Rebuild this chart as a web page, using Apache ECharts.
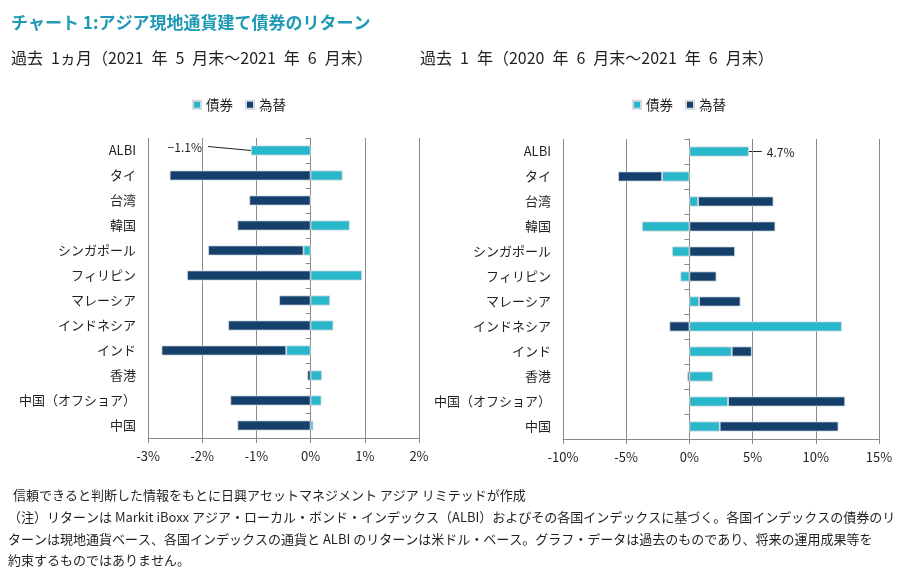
<!DOCTYPE html>
<html>
<head>
<meta charset="utf-8">
<script src="https://cdn.jsdelivr.net/npm/echarts@6/dist/echarts.min.js"></script>
<style>html,body{margin:0;padding:0;background:#fff}#c{width:904px;height:578px}</style>
</head>
<body>
<div id="c"></div>
<script>
var categories = ['ALBI','タイ','台湾','韓国','シンガポール','フィリピン','マレーシア','インドネシア','インド','香港','中国（オフショア）','中国'];
var monthBond = [-1.1, 0.59, 0, 0.72, -0.13, 0.95, 0.36, 0.42, -0.45, 0.21, 0.2, 0.05];
var monthFx   = [null, -2.6, -1.13, -1.35, -1.76, -2.28, -0.58, -1.52, -2.3, -0.06, -1.48, -1.35];
var yearBond  = [4.7, -2.16, 0.69, -3.75, -1.37, -0.71, 0.77, 12.06, 3.35, 1.87, 3.06, 2.4];
var yearFx    = [null, -3.48, 5.96, 6.8, 3.61, 2.14, 3.27, -1.58, 1.58, -0.16, 9.26, 9.39];
var seriesNames = ['債券', '為替'];
var monthTicks = {min: -3, max: 2, interval: 1};
var yearTicks = {min: -10, max: 15, interval: 5};
var titleText = 'チャート 1:アジア現地通貨建て債券のリターン';
var subLeft = '過去\u20021ヵ月（2021\u2002年\u20025\u2002月末～2021\u2002年\u20026\u2002月末）';
var subRight = '過去\u20021\u2002年（2020\u2002年\u20026\u2002月末～2021\u2002年\u20026\u2002月末）';
var notes = [
  ' 信頼できると判断した情報をもとに日興アセットマネジメント アジア リミテッドが作成',
  '（注）リターンは Markit iBoxx アジア・ローカル・ボンド・インデックス（ALBI）およびその各国インデックスに基づく。各国インデックスの債券のリ',
  'ターンは現地通貨ベース、各国インデックスの通貨と ALBI のリターンは米ドル・ベース。グラフ・データは過去のものであり、将来の運用成果等を',
  '約束するものではありません。'
];

var FONT = '"Noto Sans CJK JP", "Noto Sans", sans-serif';
var CYAN = '#29b8ca', NAVY = '#14406b', GRID = '#8a8a8a', TXT = '#231f20';

var chart = echarts.init(document.getElementById('c'), null, {renderer: 'canvas'});

function xAxis(gi, t) {
  return {
    type: 'value', gridIndex: gi, min: t.min, max: t.max, interval: t.interval,
    axisLine: {show: true, onZero: false, lineStyle: {color: GRID, width: 1}},
    axisTick: {show: true, length: 5, lineStyle: {color: GRID}},
    splitLine: {show: true, lineStyle: {color: GRID, width: 1}},
    axisLabel: {formatter: '{value}%', fontSize: 13, color: TXT, fontFamily: FONT, margin: 12}
  };
}
function yLabelAxis(gi) {
  return {
    type: 'category', gridIndex: gi, data: categories, inverse: true, position: 'left',
    axisLine: {show: false, onZero: false}, axisTick: {show: false},
    axisLabel: {fontSize: 13, color: TXT, fontFamily: FONT, margin: 12}
  };
}
function yZeroAxis(gi) {
  return {
    type: 'category', gridIndex: gi, data: categories, inverse: true, position: 'left',
    axisLine: {show: true, onZero: true, lineStyle: {color: GRID, width: 1}},
    axisTick: {show: true, length: 5, lineStyle: {color: GRID}},
    axisLabel: {show: false}
  };
}
function bar(name, data, xi, yi, stack, color) {
  return {
    name: name, type: 'bar', xAxisIndex: xi, yAxisIndex: yi, stack: stack,
    data: data, barWidth: 10, itemStyle: {color: color, borderColor: '#d3d9e1', borderWidth: 0.8},
    emphasis: {disabled: true}
  };
}
var legendBase = {
  data: seriesNames, icon: 'rect', itemWidth: 8, itemHeight: 8, itemGap: 12,
  textStyle: {fontSize: 13.5, color: TXT, fontFamily: FONT}, padding: 0, selectedMode: false
};

var graphics = [
  {type: 'text', left: 11, top: 50, style: {text: subLeft, fontSize: 16, fill: TXT, fontFamily: FONT}},
  {type: 'text', left: 420, top: 50, style: {text: subRight, fontSize: 16, fill: TXT, fontFamily: FONT}}
];
var noteY = [489, 511, 533, 554];
notes.forEach(function (s, i) {
  graphics.push({type: 'text', left: i === 0 ? 10 : 8, top: noteY[i], style: {text: s, fontSize: 13, fill: TXT, fontFamily: FONT}});
});

chart.setOption({
  animation: false,
  backgroundColor: '#fff',
  title: {text: titleText, left: 11, top: 14, padding: 0,
    textStyle: {fontSize: 17, fontWeight: 'bold', color: '#1f9ab4', fontFamily: FONT}},
  legend: [
    Object.assign({left: 192, top: 98}, legendBase),
    Object.assign({left: 632, top: 98}, legendBase)
  ],
  grid: [
    {left: 148, right: 485, top: 138, height: 300, containLabel: false},
    {left: 563, right: 25, top: 139, height: 300, containLabel: false}
  ],
  xAxis: [xAxis(0, monthTicks), xAxis(1, yearTicks)],
  yAxis: [yLabelAxis(0), yZeroAxis(0), yLabelAxis(1), yZeroAxis(1)],
  series: [
    bar(seriesNames[0], monthBond, 0, 0, 'L', CYAN),
    bar(seriesNames[1], monthFx, 0, 0, 'L', NAVY),
    bar(seriesNames[0], yearBond, 1, 2, 'R', CYAN),
    bar(seriesNames[1], yearFx, 1, 2, 'R', NAVY)
  ],
  graphic: graphics
});

function fmt(v) { return (v < 0 ? '−' : '') + Math.abs(v).toFixed(1) + '%'; }
var pL = chart.convertToPixel({xAxisIndex: 0, yAxisIndex: 0}, [monthBond[0], 0]);
var pR = chart.convertToPixel({xAxisIndex: 1, yAxisIndex: 2}, [yearBond[0], 0]);
graphics.push(
  {type: 'line', shape: {x1: pL[0], y1: pL[1], x2: pL[0] - 43, y2: pL[1] - 4}, style: {stroke: '#222', lineWidth: 1}},
  {type: 'text', x: pL[0] - 49, y: pL[1] - 3, style: {text: fmt(monthBond[0]), fontSize: 12, fill: TXT, fontFamily: FONT, align: 'right', verticalAlign: 'middle'}},
  {type: 'line', shape: {x1: pR[0], y1: pR[1], x2: pR[0] + 13, y2: pR[1]}, style: {stroke: '#222', lineWidth: 1}},
  {type: 'text', x: pR[0] + 18, y: pR[1] + 1, style: {text: fmt(yearBond[0]), fontSize: 12, fill: TXT, fontFamily: FONT, align: 'left', verticalAlign: 'middle'}}
);
chart.setOption({graphic: graphics});
</script>
</body>
</html>
